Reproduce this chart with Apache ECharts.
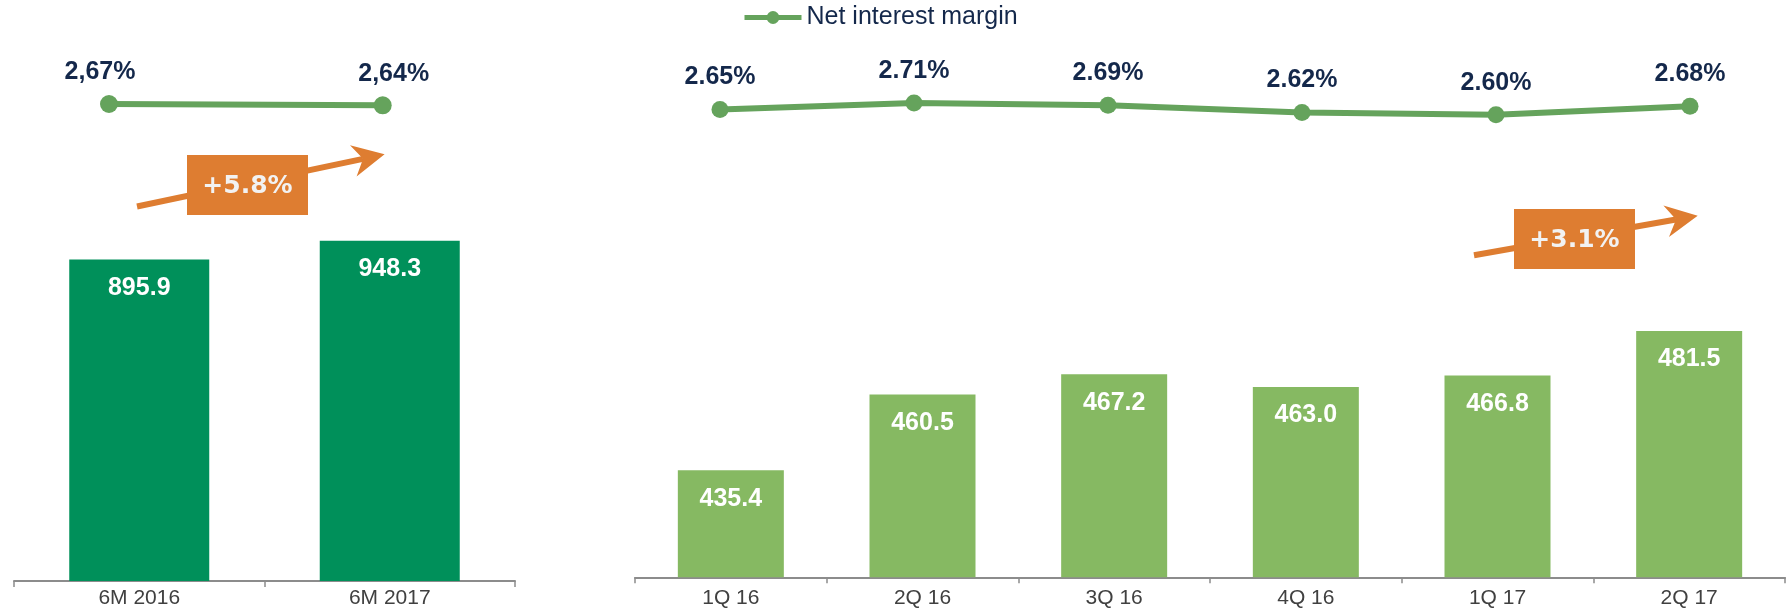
<!DOCTYPE html>
<html lang="en">
<head>
	<meta charset="UTF-8">
	<title>Net interest income and margin</title>
	<script type="text/javascript" src="https://cdn.jsdelivr.net/npm/echarts@6/dist/echarts.min.js"></script>
	<style>
		html, body { margin: 0; padding: 0; background: #fff; }
	</style>
</head>
<body>
	<div id="main" style="width: 1791px; height: 609px;"></div>
	<script type="text/javascript">
		// data
		var halfYears = ['6M 2016', '6M 2017'];
		var halfYearNII = [895.9, 948.3];
		var halfYearNIM = [2.67, 2.64];

		var quarters = ['1Q 16', '2Q 16', '3Q 16', '4Q 16', '1Q 17', '2Q 17'];
		var quarterNII = [435.4, 460.5, 467.2, 463.0, 466.8, 481.5];
		var quarterNIM = [2.65, 2.71, 2.69, 2.62, 2.60, 2.68];

		var growthLabels = ['+5.8%', '+3.1%'];

		var navy = '#14284b';
		var lineGreen = '#65a35c';
		var orange = '#de7d31';
		var axisGrey = '#8c8c8c';
		var font = '"Liberation Sans", Arial, sans-serif';

		// small nudges for the two half-year margin labels
		var halfYearLabelOffsets = [[-9, 0], [11, 0]];

		function arrow(x1, y1, x2, y2) {
			var dx = x2 - x1, dy = y2 - y1;
			var len = Math.sqrt(dx * dx + dy * dy);
			var ux = dx / len, uy = dy / len;
			var px = -uy, py = ux;
			var L = 32, W = 16, N = 22;
			var bx = x2 - ux * L, by = y2 - uy * L;
			var nx = x2 - ux * N, ny = y2 - uy * N;
			return [
				{
					type: 'line',
					shape: { x1: x1, y1: y1, x2: nx, y2: ny },
					style: { stroke: orange, lineWidth: 6 }
				},
				{
					type: 'polygon',
					shape: { points: [[x2, y2], [bx + px * W, by + py * W], [nx, ny], [bx - px * W, by - py * W]] },
					style: { fill: orange }
				}
			];
		}

		function growthBox(x, y, w, h, text) {
			return [
				{ type: 'rect', shape: { x: x, y: y, width: w, height: h }, style: { fill: orange } },
				{
					type: 'text',
					x: x + w / 2,
					y: y + h / 2 + 1,
					style: {
						text: text,
						fill: '#f2f2f2',
						font: 'bold 25px "DejaVu Sans", Verdana, sans-serif',
						align: 'center',
						verticalAlign: 'middle'
					}
				}
			];
		}

		var catAxisStyle = {
			axisLine: { show: true, lineStyle: { color: axisGrey, width: 2 } },
			axisTick: { show: true, length: 6, lineStyle: { color: axisGrey, width: 1.5 } },
			axisLabel: { color: '#404040', fontSize: 21, fontFamily: font }
		};

		var myChart = echarts.init(document.getElementById('main'));
		var option = {
			animation: false,
			legend: {
				data: ['Net interest margin'],
				left: 742,
				top: 5,
				padding: 0,
				itemWidth: 57,
				itemHeight: 16,
				itemGap: 10,
				lineStyle: { width: 5 },
				textStyle: { color: navy, fontSize: 25, fontFamily: font }
			},
			grid: [
				{ left: 14, top: 222.2, width: 501, height: 359.5 },
				{ left: 635, top: 275.1, width: 1150, height: 302.2 },
				{ left: 109, top: 89.8, width: 273.7, height: 43 },
				{ left: 720, top: 93.5, width: 970, height: 31.8 }
			],
			xAxis: [
				{
					gridIndex: 0, type: 'category', data: halfYears,
					axisLine: catAxisStyle.axisLine, axisTick: catAxisStyle.axisTick,
					axisLabel: Object.assign({ margin: 7 }, catAxisStyle.axisLabel)
				},
				{
					gridIndex: 1, type: 'category', data: quarters,
					axisLine: catAxisStyle.axisLine, axisTick: catAxisStyle.axisTick,
					axisLabel: Object.assign({ margin: 10 }, catAxisStyle.axisLabel)
				},
				{ gridIndex: 2, type: 'category', data: halfYears, boundaryGap: false, show: false },
				{ gridIndex: 3, type: 'category', data: quarters, boundaryGap: false, show: false }
			],
			yAxis: [
				{ gridIndex: 0, type: 'value', min: 0, max: 1000, show: false },
				{ gridIndex: 1, type: 'value', min: 400, max: 500, show: false },
				{ gridIndex: 2, type: 'value', min: 2, max: 3, show: false },
				{ gridIndex: 3, type: 'value', min: 2.5, max: 2.8, show: false }
			],
			series: [
				{
					type: 'bar', xAxisIndex: 0, yAxisIndex: 0,
					data: halfYearNII,
					barWidth: 140,
					itemStyle: { color: '#00905a' },
					label: {
						show: true, position: 'insideTop', distance: 16,
						color: '#fff', fontSize: 25, fontWeight: 'bold', fontFamily: font,
						formatter: function (p) { return p.value.toFixed(1); }
					}
				},
				{
					type: 'bar', xAxisIndex: 1, yAxisIndex: 1,
					data: quarterNII,
					barWidth: 106,
					itemStyle: { color: '#86b962' },
					label: {
						show: true, position: 'insideTop', distance: 16,
						color: '#fff', fontSize: 25, fontWeight: 'bold', fontFamily: font,
						formatter: function (p) { return p.value.toFixed(1); }
					}
				},
				{
					name: 'Net interest margin',
					type: 'line', xAxisIndex: 2, yAxisIndex: 2,
					data: halfYearNIM.map(function (v, i) {
						return { value: v, label: { offset: halfYearLabelOffsets[i] } };
					}),
					symbol: 'circle', symbolSize: 18,
					lineStyle: { color: lineGreen, width: 6 },
					itemStyle: { color: lineGreen },
					label: {
						show: true, position: 'top', distance: 10,
						color: navy, fontSize: 25, fontWeight: 'bold', fontFamily: font,
						formatter: function (p) { return p.value.toFixed(2).replace('.', ',') + '%'; }
					}
				},
				{
					name: 'Net interest margin',
					type: 'line', xAxisIndex: 3, yAxisIndex: 3,
					data: quarterNIM,
					symbol: 'circle', symbolSize: 17,
					lineStyle: { color: lineGreen, width: 6 },
					itemStyle: { color: lineGreen },
					label: {
						show: true, position: 'top', distance: 11,
						color: navy, fontSize: 25, fontWeight: 'bold', fontFamily: font,
						formatter: function (p) { return p.value.toFixed(2) + '%'; }
					}
				}
			],
			graphic: {
				elements: [].concat(
					arrow(137, 206.5, 384.6, 154.3),
					growthBox(187, 155, 121, 60, growthLabels[0]),
					arrow(1474, 255.3, 1697.7, 215.7),
					growthBox(1514, 209, 121, 60, growthLabels[1])
				)
			}
		};
		myChart.setOption(option);
	</script>
</body>
</html>
